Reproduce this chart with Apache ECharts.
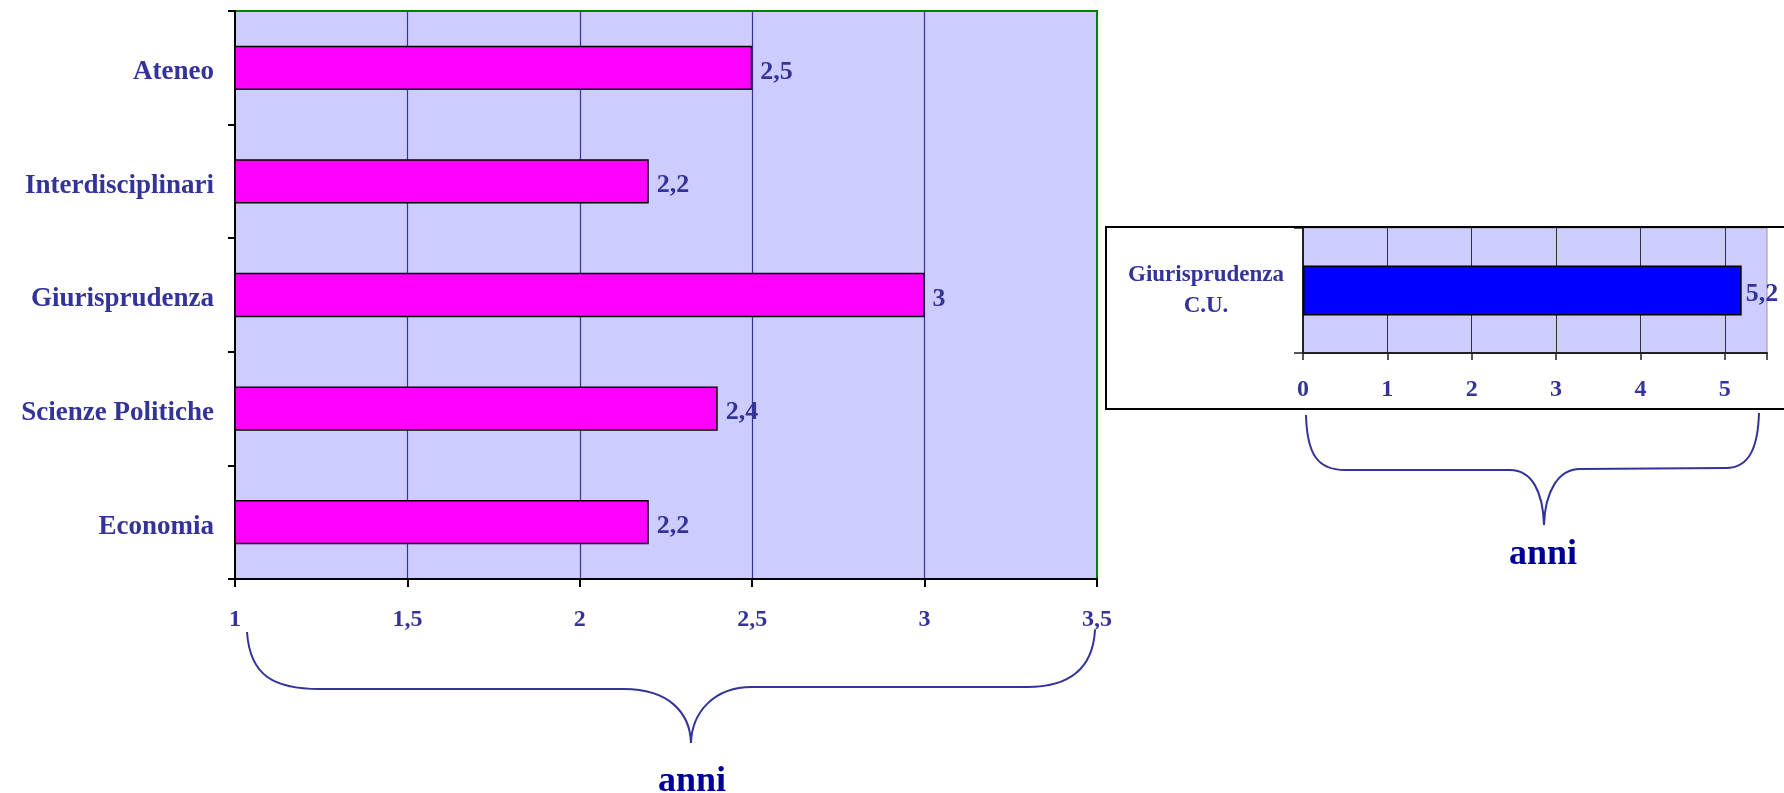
<!DOCTYPE html>
<html>
<head>
<meta charset="utf-8">
<script src="https://cdn.jsdelivr.net/npm/echarts@6/dist/echarts.min.js"></script>
<style>
html,body{margin:0;padding:0;background:#ffffff;}
#c{width:1784px;height:793px;}
</style>
</head>
<body>
<div id="c"></div>
<script>
// ---- data ----
const categories = ['Ateneo', 'Interdisciplinari', 'Giurisprudenza', 'Scienze Politiche', 'Economia'];
const values = [2.5, 2.2, 3, 2.4, 2.2];
const xTicks = [1, 1.5, 2, 2.5, 3, 3.5];

const cuCategories = ['Giurisprudenza\nC.U.'];
const cuValues = [5.2];
const cuTicks = [0, 1, 2, 3, 4, 5];

const axisTitle = 'anni';

// ---- helpers ----
const FONT = '"Liberation Serif", "Times New Roman", serif';
const LBL = '#333399';
const comma = v => String(v).replace('.', ',');
const tickFmt = list => v => {
  const hit = list.some(t => Math.abs(t - v) < 1e-9);
  return hit ? comma(+v.toFixed(2)) : '';
};

// decorative brace drawn from curve / line pieces
const braceStyle = {fill: 'none', stroke: '#333399', lineWidth: 2};
function bez(a, c1, c2, b) {
  return {type: 'bezierCurve', z: 100, silent: true,
    shape: {x1: a[0], y1: a[1], cpx1: c1[0], cpy1: c1[1], cpx2: c2[0], cpy2: c2[1], x2: b[0], y2: b[1]},
    style: braceStyle};
}
function seg(a, b) {
  return {type: 'line', z: 100, silent: true,
    shape: {x1: a[0], y1: a[1], x2: b[0], y2: b[1]}, style: braceStyle};
}

const braceLeft = [
  bez([247, 632], [250, 676], [274, 689], [320, 689]),
  seg([320, 689], [624, 689]),
  bez([624, 689], [668, 689], [690, 712], [691, 743]),
  bez([691, 743], [692, 712], [714, 687], [752, 687]),
  seg([752, 687], [1027, 687]),
  bez([1027, 687], [1072, 687], [1093, 666], [1095, 630])
];
const braceRight = [
  bez([1306, 415], [1307, 455], [1318, 470], [1345, 470]),
  seg([1345, 470], [1510, 470]),
  bez([1510, 470], [1532, 470], [1543, 492], [1544, 525]),
  bez([1544, 525], [1545, 492], [1558, 469], [1580, 469]),
  seg([1580, 469], [1726, 468]),
  bez([1726, 468], [1750, 468], [1758, 446], [1759, 413])
];

const chart = echarts.init(document.getElementById('c'), null, {renderer: 'canvas'});

const option = {
  backgroundColor: '#ffffff',
  animation: false,
  grid: [
    {left: 235, top: 11, width: 862, height: 568, show: true,
     backgroundColor: '#CCCCFF', borderColor: '#008000', borderWidth: 2,
     containLabel: false, outerBoundsMode: 'none'},
    {left: 1303, top: 228, width: 464, height: 125, show: true,
     backgroundColor: '#CCCCFF', borderColor: '#9a9a9a', borderWidth: 1,
     containLabel: false, outerBoundsMode: 'none'}
  ],
  xAxis: [
    {type: 'value', gridIndex: 0, min: 1, max: 3.5, interval: 0.5, position: 'bottom',
     axisLine: {show: true, onZero: false, lineStyle: {color: '#000', width: 2}},
     axisTick: {show: true, length: 8, lineStyle: {color: '#000', width: 2}},
     axisLabel: {show: true, formatter: tickFmt(xTicks), fontFamily: FONT, fontWeight: 'bold',
                 fontSize: 24, color: LBL, margin: 29, showMinLabel: true, showMaxLabel: true, hideOverlap: false},
     splitLine: {show: true, showMinLine: false, showMaxLine: false, lineStyle: {color: '#333399', width: 1.2}}},
    {type: 'value', gridIndex: 1, min: 0, max: 5.5, interval: 1, position: 'bottom',
     axisLine: {show: true, onZero: false, lineStyle: {color: '#222', width: 2}},
     axisTick: {show: true, length: 7, lineStyle: {color: '#222', width: 1.5}},
     axisLabel: {show: true, formatter: tickFmt(cuTicks), fontFamily: FONT, fontWeight: 'bold',
                 fontSize: 24, color: LBL, margin: 25, hideOverlap: false},
     splitLine: {show: true, showMinLine: false, showMaxLine: false, lineStyle: {color: '#333333', width: 1}}}
  ],
  yAxis: [
    {type: 'category', gridIndex: 0, data: categories, inverse: true,
     axisLine: {show: true, lineStyle: {color: '#000', width: 2}},
     axisTick: {show: true, length: 7, alignWithLabel: false, lineStyle: {color: '#000', width: 2}},
     axisLabel: {show: true, fontFamily: FONT, fontWeight: 'bold', fontSize: 27, color: LBL,
                 margin: 21, interval: 0, verticalAlign: 'top', lineHeight: 9},
     splitLine: {show: false}},
    {type: 'category', gridIndex: 1, data: cuCategories,
     axisLine: {show: true, lineStyle: {color: '#222', width: 2}},
     axisTick: {show: true, length: 9, alignWithLabel: false, lineStyle: {color: '#222', width: 1.5}},
     axisLabel: {show: true, fontFamily: FONT, fontWeight: 'bold', fontSize: 23, lineHeight: 31,
                 color: LBL, margin: 97, align: 'center', interval: 0},
     splitLine: {show: false}}
  ],
  series: [
    {type: 'bar', xAxisIndex: 0, yAxisIndex: 0, data: values, barCategoryGap: '61%', clip: true,
     itemStyle: {color: '#FF00FF', borderColor: '#000', borderWidth: 1.5},
     label: {show: true, position: 'right', distance: 8, offset: [0, 4], formatter: p => comma(p.value),
             fontFamily: FONT, fontWeight: 'bold', fontSize: 26, color: LBL}},
    {type: 'bar', xAxisIndex: 1, yAxisIndex: 1, data: cuValues, barCategoryGap: '60%', clip: true,
     itemStyle: {color: '#0000FF', borderColor: '#000', borderWidth: 1.5},
     label: {show: true, position: 'right', distance: 4, offset: [0, 4], formatter: p => comma(p.value),
             fontFamily: FONT, fontWeight: 'bold', fontSize: 26, color: LBL}}
  ],
  graphic: {
    elements: [
      {type: 'rect', z: 100, silent: true,
       shape: {x: 1106, y: 227, width: 720, height: 182},
       style: {fill: 'none', stroke: '#000', lineWidth: 2}}
    ].concat(braceLeft, braceRight, [
      {type: 'text', z: 100, silent: true, x: 692, y: 782,
       style: {text: axisTitle, font: 'bold 36px ' + FONT, fill: '#000099', align: 'center', verticalAlign: 'middle'}},
      {type: 'text', z: 100, silent: true, x: 1543, y: 555,
       style: {text: axisTitle, font: 'bold 36px ' + FONT, fill: '#000099', align: 'center', verticalAlign: 'middle'}}
    ])
  }
};

chart.setOption(option);
</script>
</body>
</html>
